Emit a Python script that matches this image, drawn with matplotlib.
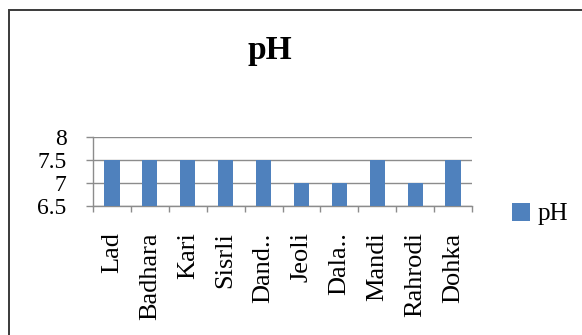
import matplotlib.pyplot as plt
from matplotlib.patches import Rectangle
import numpy as np

sites = ["Lad", "Badhara", "Kari", "Sisrli", "Dand..", "Jeoli",
         "Dala..", "Mandi", "Rahrodi", "Dohka"]
ph = [7.5, 7.5, 7.5, 7.5, 7.5, 7.0, 7.0, 7.5, 7.0, 7.5]
yticks = [6.5, 7, 7.5, 8]
ytick_labels = ["6.5", "7", "7.5", "8"]

plt.rcParams['font.family'] = ['Liberation Serif', 'DejaVu Serif']

W, H = 582, 335
fig = plt.figure(figsize=(W / 100, H / 100), dpi=100)
fig.patch.set_facecolor('white')

# chart border, runs off the right and bottom edges
fig.patches.append(Rectangle((9 / W, -0.05), 1.0, (H - 10) / H + 0.05,
                             transform=fig.transFigure, fill=False,
                             edgecolor='#3a3a3a', linewidth=1.4))

ax = fig.add_axes([93 / W, (H - 206) / H, (472 - 93) / W, (206 - 137) / H])
x = np.arange(len(sites))
bars = ax.bar(x, ph, width=0.4, color='#4f81bd', label='pH', zorder=3)

ax.set_xlim(-0.5, len(sites) - 0.5)
ax.set_ylim(6.5, 8)
ax.set_yticks(yticks)
ax.set_yticklabels(ytick_labels, fontsize=17)
ax.yaxis.grid(True, color='#8c8c8c', linewidth=1.0, zorder=0)

ax.set_xticks(x)
ax.set_xticklabels(sites, rotation=90, fontsize=19, va='top', ha='center')
ax.set_xticks(np.arange(len(sites) + 1) - 0.5, minor=True)
ax.tick_params(axis='x', which='major', length=0, pad=19)
ax.tick_params(axis='x', which='minor', length=4.5, color='#8c8c8c', width=1.0)
ax.tick_params(axis='y', length=5, color='#8c8c8c', width=1.0, pad=14)

for side in ('top', 'right'):
    ax.spines[side].set_visible(False)
for side in ('left', 'bottom'):
    ax.spines[side].set_color('#8c8c8c')
    ax.spines[side].set_linewidth(1.0)

fig.text(270 / W, 1 - 50 / H, "pH", fontsize=24, fontweight='bold',
         ha='center', va='center')

fig.legend(handles=[bars], labels=['pH'], loc='center left',
           bbox_to_anchor=(499 / W, 1 - 214 / H), frameon=False,
           fontsize=18, handlelength=0.75, handleheight=0.75,
           handletextpad=0.3, borderpad=0)

fig.savefig('out.png', dpi=100)
